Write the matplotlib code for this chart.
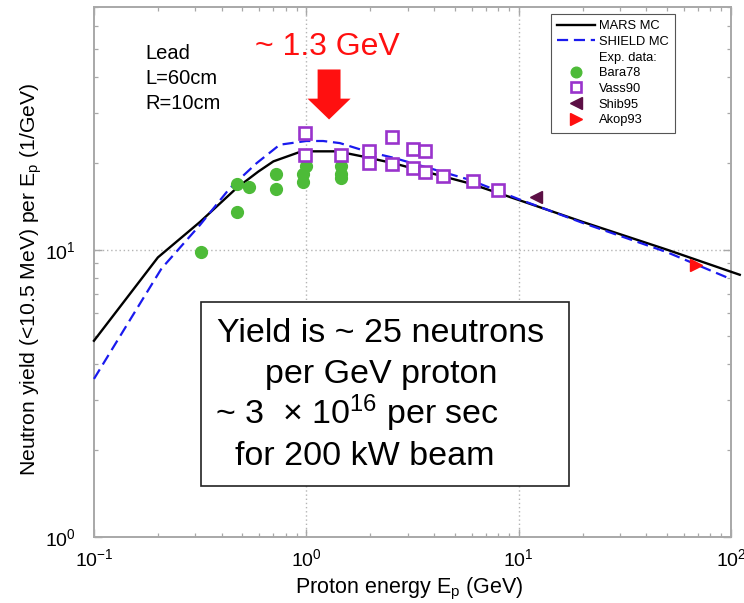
import matplotlib
matplotlib.use("Agg")
import matplotlib.pyplot as plt
from matplotlib.lines import Line2D
from matplotlib.patches import Rectangle
from matplotlib.legend_handler import HandlerLine2D

plt.rcParams["font.family"] = "Liberation Sans"
plt.rcParams["mathtext.fontset"] = "custom"
plt.rcParams["mathtext.rm"] = "Liberation Sans"
plt.rcParams["mathtext.it"] = "Liberation Sans:italic"
plt.rcParams["mathtext.bf"] = "Liberation Sans:bold"

# ── Data ────────────────────────────────────────────────────
mars_e = [0.1, 0.2, 0.316, 0.47, 0.594, 0.70, 0.95, 1.4, 1.85, 2.57, 5.9, 10, 20, 50, 100, 110]
mars_y = [4.82, 9.4, 12.5, 16.4, 18.7, 20.3, 22.0, 22.0, 21.1, 20.0, 17.0, 14.9, 12.5, 10.0, 8.38, 8.18]

shield_e = [0.1, 0.15, 0.208, 0.316, 0.437, 0.583, 0.75, 1.0, 1.2, 1.44, 1.92, 2.57, 5.9, 10, 20, 50, 100]
shield_y = [3.55, 5.8, 8.6, 12.2, 16.4, 20.0, 23.2, 23.9, 23.9, 23.5, 22.0, 20.9, 17.5, 15.0, 12.4, 9.8, 7.9]

bara_e = [0.32, 0.47, 0.47, 0.54, 0.72, 0.72, 0.96, 0.97, 1.0, 1.46, 1.46, 1.46]
bara_y = [9.8, 16.9, 13.5, 16.5, 18.4, 16.3, 17.2, 18.4, 19.5, 19.5, 18.4, 17.8]

vass_e = [0.99, 0.99, 1.46, 1.98, 1.98, 2.54, 2.54, 3.17, 3.17, 3.62, 3.62, 4.42, 6.12, 8.02]
vass_y = [25.4, 21.4, 21.3, 22.0, 20.0, 24.7, 19.9, 22.5, 19.3, 22.0, 18.6, 18.1, 17.3, 16.2]

shib_e = [12.1]
shib_y = [15.3]

akop_e = [68.5]
akop_y = [8.85]

target_lines = ["Lead", "L=60cm", "R=10cm"]
box_lines = ["Yield is ~ 25 neutrons", "per GeV proton",
             "~ 3  \u00d7 10$^{16}$ per sec", "for 200 kW beam"]

GREEN = "#4dbb38"
PURPLE = "#9933cc"
MAROON = "#5c0f45"
RED = "#ff1010"
GRID = "#b4b4b4"
SPINE = "#a8a8a8"


class MarkerAtRight(HandlerLine2D):
    """Put the single legend marker at the right end of the handle."""
    def get_xdata(self, legend, xdescent, ydescent, width, height, fontsize):
        xdata = [-xdescent, -xdescent + width]
        return xdata, [-xdescent + width - 4]


fig = plt.figure(figsize=(7.44, 6.03), dpi=100)
ax = fig.add_axes([0.1263, 0.1095, 0.8562, 0.879])
ax.set_xscale("log")
ax.set_yscale("log")
ax.set_xlim(0.1, 100)
ax.set_ylim(1, 70)

# grid only at decades
for xv in (1, 10):
    ax.axvline(xv, color=GRID, ls=(0, (1, 2)), lw=1.0, zorder=0)
ax.axhline(10, color=GRID, ls=(0, (1, 2)), lw=1.0, zorder=0)

h_mars, = ax.plot(mars_e, mars_y, color="black", lw=1.7, clip_on=False, zorder=3)
h_shield, = ax.plot(shield_e, shield_y, color="#1a1aee", lw=1.6, ls=(0, (5, 2.6)),
                    clip_on=False, zorder=3)
h_bara, = ax.plot(bara_e, bara_y, ls="none", marker="o", ms=8.5, color=GREEN,
                  mec=GREEN, zorder=4)
h_vass, = ax.plot(vass_e, vass_y, ls="none", marker="s", ms=8, mfc="white",
                  mec=PURPLE, mew=1.9, zorder=4)
h_shib, = ax.plot(shib_e, shib_y, ls="none", marker="<", ms=9, color=MAROON, zorder=4)
h_akop, = ax.plot(akop_e, akop_y, ls="none", marker=">", ms=9, color=RED, zorder=4)
h_exp = Line2D([], [], ls="none", marker="none")

# axes cosmetics
for sp in ax.spines.values():
    sp.set_color(SPINE)
    sp.set_linewidth(1.4)
ax.tick_params(which="both", direction="in", top=True, right=True, colors=SPINE,
               labelcolor="black")
ax.tick_params(which="major", length=6, width=1.0, labelsize=14)
ax.tick_params(which="minor", length=3, width=0.9)
ax.tick_params(axis="x", which="major", pad=8)
ax.tick_params(axis="y", which="major", pad=13)

ax.set_xlabel("Proton energy E$_\\mathrm{p}$ (GeV)", fontsize=15.5)
ax.set_ylabel("Neutron yield (<10.5 MeV) per E$_\\mathrm{p}$ (1/GeV)", fontsize=15.2)
ax.xaxis.set_label_coords(0.495, -0.074)
ax.yaxis.set_label_coords(-0.079, 0.485)

leg = ax.legend([h_mars, h_shield, h_exp, h_bara, h_vass, h_shib, h_akop],
                ["MARS MC", "SHIELD MC", "Exp. data:", "Bara78", "Vass90", "Shib95", "Akop93"],
                handler_map={h_bara: MarkerAtRight(), h_vass: MarkerAtRight(),
                             h_shib: MarkerAtRight(), h_akop: MarkerAtRight()},
                loc="upper right", bbox_to_anchor=(0.912, 0.987), borderaxespad=0,
                fontsize=9.3, handlelength=2.9, handletextpad=0.3, labelspacing=0.28,
                numpoints=1, fancybox=False, framealpha=1, edgecolor="#555555",
                borderpad=0.5, markerscale=0.9)
leg.get_frame().set_linewidth(0.8)

# target description
for i, s in enumerate(target_lines):
    ax.text(0.080, 0.9019 - i * 0.0472, s, transform=ax.transAxes, fontsize=14.5,
            ha="left", va="baseline")

# peak annotation
ax.text(0.2527, 0.909, "~ 1.3 GeV", transform=ax.transAxes, fontsize=23,
        color=RED, ha="left", va="baseline")
ax.annotate("", xy=(1.28, 28.4), xytext=(1.28, 42.4), xycoords="data",
            textcoords="data",
            arrowprops=dict(arrowstyle="simple,head_length=15,head_width=31,tail_width=16.5",
                            mutation_scale=1, color=RED, shrinkA=0, shrinkB=0, lw=0))

# summary box
ax.add_patch(Rectangle((0.168, 0.0962), 0.5777, 0.3472, transform=ax.transAxes,
                       facecolor="white", edgecolor="#222222", lw=1.2, zorder=5))
box_x = [0.1931, 0.2684, 0.19, 0.2214]
box_y = [0.3679, 0.2906, 0.2132, 0.1358]
for s, x, y in zip(box_lines, box_x, box_y):
    ax.text(x, y, s, transform=ax.transAxes, fontsize=24.5, ha="left",
            va="baseline", zorder=6)

fig.savefig("out.png", dpi=100)
